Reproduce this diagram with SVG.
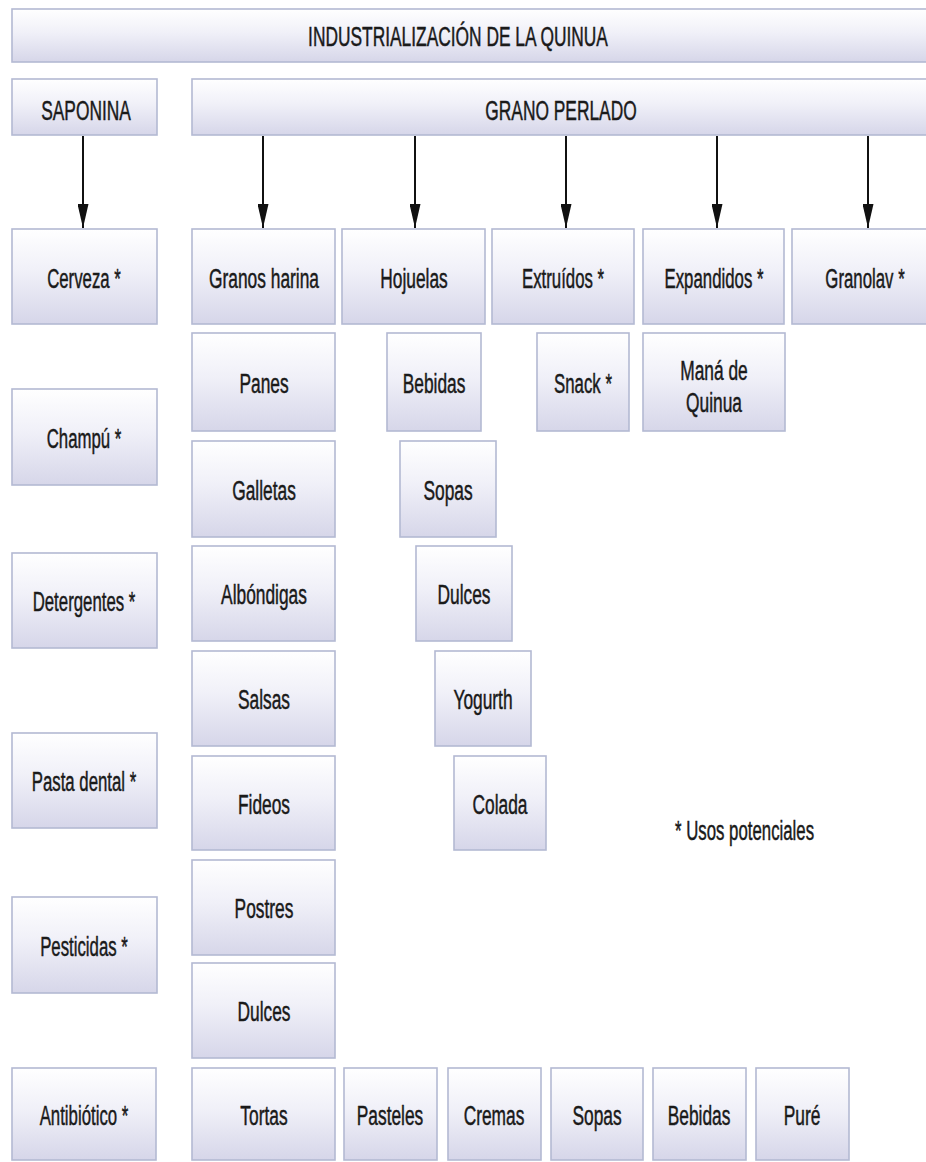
<svg xmlns="http://www.w3.org/2000/svg" width="926" height="1162" viewBox="0 0 926 1162">
<defs>
<linearGradient id="g" x1="0" y1="0" x2="0" y2="1">
<stop offset="0" stop-color="#ffffff"/>
<stop offset="0.45" stop-color="#f0f0f8"/>
<stop offset="1" stop-color="#d6d6e9"/>
</linearGradient>
<marker id="ah" markerUnits="userSpaceOnUse" markerWidth="24" markerHeight="11" refX="24" refY="5.5" orient="auto">
<path d="M0,0 L24,5.5 L0,11 z" fill="#111"/>
</marker>
</defs>
<style>
rect.b { fill: url(#g); stroke: #b3b9d3; stroke-width: 1.6; }
text { font-family: "Liberation Sans", Arial, sans-serif; font-size: 28px; fill: #1a1a1a; stroke: #1a1a1a; stroke-width: 0.5; text-anchor: middle; }
line.c { stroke: #111; stroke-width: 2; marker-end: url(#ah); }
</style>
<rect width="926" height="1162" fill="#ffffff"/>

<g id="connectors">
<line class="c" x1="83" y1="136" x2="83" y2="228"/>
<line class="c" x1="263" y1="136" x2="263" y2="228"/>
<line class="c" x1="415" y1="136" x2="415" y2="228"/>
<line class="c" x1="566" y1="136" x2="566" y2="228"/>
<line class="c" x1="717" y1="136" x2="717" y2="228"/>
<line class="c" x1="868" y1="136" x2="868" y2="228"/>
</g>

<g id="n-title"><rect class="b" x="12" y="9" width="930" height="53"/><text transform="translate(458 46) scale(0.62 1)">INDUSTRIALIZACIÓN DE LA QUINUA</text></g>
<g id="n-saponina"><rect class="b" x="12" y="79" width="145" height="56"/><text transform="translate(86 120) scale(0.62 1)">SAPONINA</text></g>
<g id="n-grano"><rect class="b" x="192" y="79" width="745" height="56"/><text transform="translate(561 120) scale(0.62 1)">GRANO PERLADO</text></g>

<g id="n-cerveza"><rect class="b" x="12" y="229" width="145" height="95"/><text transform="translate(84 288) scale(0.6 1)">Cerveza *</text></g>
<g id="n-granos"><rect class="b" x="192" y="229" width="143" height="95"/><text transform="translate(264 288) scale(0.62 1)">Granos harina</text></g>
<g id="n-hojuelas"><rect class="b" x="342" y="229" width="143" height="95"/><text transform="translate(414 288) scale(0.62 1)">Hojuelas</text></g>
<g id="n-extruidos"><rect class="b" x="492" y="229" width="142" height="95"/><text transform="translate(563 288) scale(0.6 1)">Extruídos *</text></g>
<g id="n-expandidos"><rect class="b" x="643" y="229" width="141" height="95"/><text transform="translate(714 288) scale(0.6 1)">Expandidos *</text></g>
<g id="n-granolav"><rect class="b" x="792" y="229" width="146" height="95"/><text transform="translate(865 288) scale(0.6 1)">Granolav *</text></g>

<g id="n-panes"><rect class="b" x="192" y="333" width="143" height="98"/><text transform="translate(264 393) scale(0.62 1)">Panes</text></g>
<g id="n-bebidas1"><rect class="b" x="387" y="333" width="94" height="98"/><text transform="translate(434 393) scale(0.62 1)">Bebidas</text></g>
<g id="n-snack"><rect class="b" x="537" y="333" width="92" height="98"/><text transform="translate(583 393) scale(0.6 1)">Snack *</text></g>
<g id="n-mana"><rect class="b" x="643" y="333" width="142" height="98"/><text transform="translate(714 380) scale(0.62 1)">Maná de</text><text transform="translate(714 412) scale(0.62 1)">Quinua</text></g>

<g id="n-champu"><rect class="b" x="12" y="389" width="145" height="96"/><text transform="translate(84 448) scale(0.6 1)">Champú *</text></g>
<g id="n-galletas"><rect class="b" x="192" y="441" width="143" height="96"/><text transform="translate(264 500) scale(0.62 1)">Galletas</text></g>
<g id="n-sopas1"><rect class="b" x="400" y="441" width="96" height="96"/><text transform="translate(448 500) scale(0.62 1)">Sopas</text></g>

<g id="n-detergentes"><rect class="b" x="12" y="553" width="145" height="95"/><text transform="translate(84 611) scale(0.6 1)">Detergentes *</text></g>
<g id="n-albondigas"><rect class="b" x="192" y="546" width="143" height="95"/><text transform="translate(264 604) scale(0.62 1)">Albóndigas</text></g>
<g id="n-dulces1"><rect class="b" x="416" y="546" width="96" height="95"/><text transform="translate(464 604) scale(0.62 1)">Dulces</text></g>

<g id="n-salsas"><rect class="b" x="192" y="651" width="143" height="95"/><text transform="translate(264 709) scale(0.62 1)">Salsas</text></g>
<g id="n-yogurth"><rect class="b" x="435" y="651" width="96" height="95"/><text transform="translate(483 709) scale(0.62 1)">Yogurth</text></g>

<g id="n-pasta"><rect class="b" x="12" y="733" width="145" height="95"/><text transform="translate(84 791) scale(0.6 1)">Pasta dental *</text></g>
<g id="n-fideos"><rect class="b" x="192" y="756" width="143" height="94"/><text transform="translate(264 814) scale(0.62 1)">Fideos</text></g>
<g id="n-colada"><rect class="b" x="454" y="756" width="92" height="94"/><text transform="translate(500 814) scale(0.62 1)">Colada</text></g>

<g id="n-pesticidas"><rect class="b" x="12" y="897" width="145" height="96"/><text transform="translate(84 956) scale(0.6 1)">Pesticidas *</text></g>
<g id="n-postres"><rect class="b" x="192" y="860" width="143" height="95"/><text transform="translate(264 918) scale(0.62 1)">Postres</text></g>
<g id="n-dulces2"><rect class="b" x="192" y="963" width="143" height="95"/><text transform="translate(264 1021) scale(0.62 1)">Dulces</text></g>

<g id="n-antibiotico"><rect class="b" x="12" y="1068" width="144" height="92"/><text transform="translate(84 1125) scale(0.6 1)">Antibiótico *</text></g>
<g id="n-tortas"><rect class="b" x="192" y="1068" width="143" height="92"/><text transform="translate(264 1125) scale(0.62 1)">Tortas</text></g>
<g id="n-pasteles"><rect class="b" x="344" y="1068" width="93" height="92"/><text transform="translate(390 1125) scale(0.62 1)">Pasteles</text></g>
<g id="n-cremas"><rect class="b" x="448" y="1068" width="93" height="92"/><text transform="translate(494 1125) scale(0.62 1)">Cremas</text></g>
<g id="n-sopas2"><rect class="b" x="551" y="1068" width="92" height="92"/><text transform="translate(597 1125) scale(0.62 1)">Sopas</text></g>
<g id="n-bebidas2"><rect class="b" x="653" y="1068" width="93" height="92"/><text transform="translate(699 1125) scale(0.62 1)">Bebidas</text></g>
<g id="n-pure"><rect class="b" x="756" y="1068" width="93" height="92"/><text transform="translate(802 1125) scale(0.62 1)">Puré</text></g>

<g id="legend"><text style="text-anchor:start" transform="translate(675 840) scale(0.6 1)">* Usos potenciales</text></g>
</svg>
